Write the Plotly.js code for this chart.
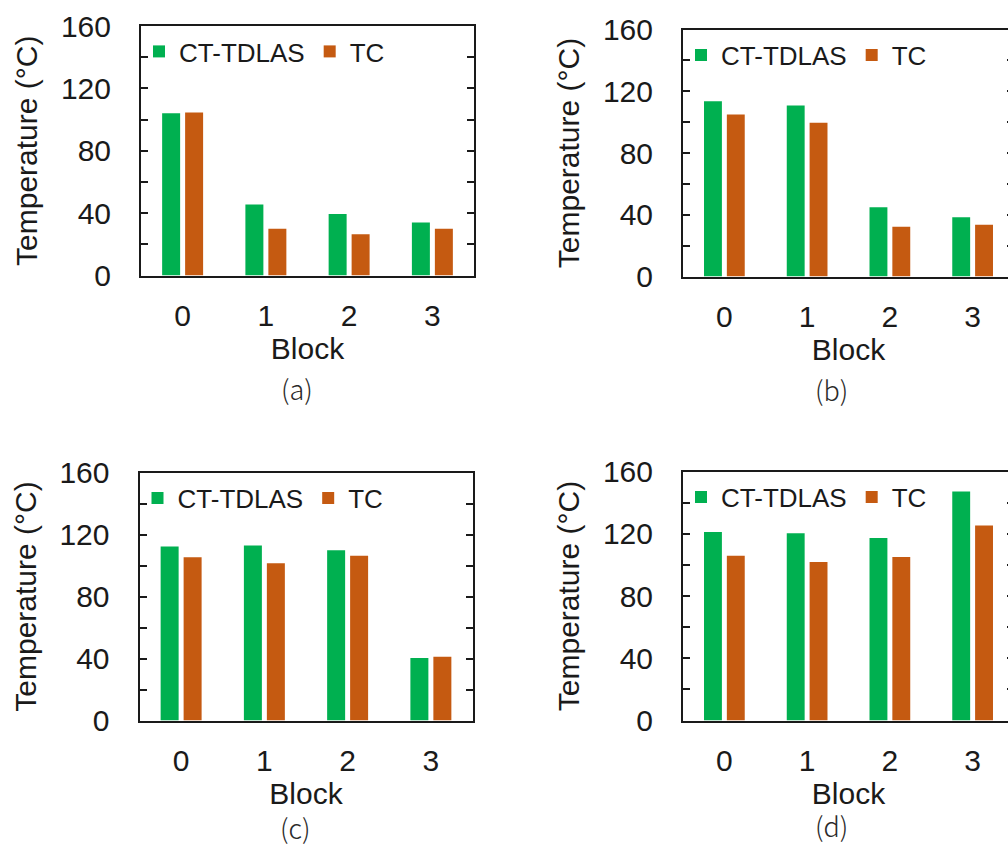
<!DOCTYPE html>
<html>
<head>
<meta charset="utf-8">
<script src="https://cdn.plot.ly/plotly-3.0.1.min.js"></script>
<style>
  html, body { margin: 0; padding: 0; overflow: hidden; background: #fff; }
  #chart { width: 1020px; height: 850px; }
</style>
</head>
<body>
<div id="chart"></div>
<script>
// ---- data ----
const blocks = ['0', '1', '2', '3'];
const seriesNames = ['CT-TDLAS', 'TC'];
const panelLabels = ['(a)', '(b)', '(c)', '(d)'];
const ctA = [104.0, 45.6, 39.4, 34.0];
const tcA = [104.6, 29.9, 26.5, 29.9];
const ctB = [113.6, 110.8, 44.9, 38.4];
const tcB = [105.0, 99.6, 32.3, 33.6];
const ctC = [112.3, 112.9, 109.9, 40.3];
const tcC = [105.4, 101.5, 106.3, 41.1];
const ctD = [121.1, 120.4, 117.2, 147.1];
const tcD = [105.8, 101.8, 105.0, 125.3];
const yTicks = [0, 40, 80, 120, 160];
const xTitle = 'Block';
const yTitle = 'Temperature (°C)';

// ---- layout helpers ----
const W = 1020, H = 850;
const px = x => x / W;
const py = y => 1 - y / H;
const GREEN = '#00B050', ORANGE = '#C55A11';
const FONT = 'Liberation Sans, Arial, sans-serif';
const INK = '#1a1a1a';

// pixel boxes of each plot: [left, right, top, bottom]
const boxes = [
  [141, 474, 26, 275.5],
  [683, 1014, 29.5, 276.5],
  [139.5, 472.5, 472.5, 720.5],
  [683, 1014, 471.5, 720.5]
];
const labelPos = [[297, 388], [831, 389], [295, 827], [831, 825]];
const ctAll = [ctA, ctB, ctC, ctD];
const tcAll = [tcA, tcB, tcC, tcD];

const data = [];
const layout = {
  width: W, height: H,
  margin: {l: 0, r: 0, t: 0, b: 0},
  paper_bgcolor: '#fff', plot_bgcolor: '#fff',
  barmode: 'group', bargap: 0.448, bargroupgap: 0.217,
  font: {family: FONT, color: INK, size: 30},
  showlegend: true,
  annotations: []
};

for (let i = 0; i < 4; i++) {
  const n = i === 0 ? '' : String(i + 1);
  const legendName = 'legend' + n;
  data.push({
    type: 'bar', name: seriesNames[0], x: blocks, y: ctAll[i],
    xaxis: 'x' + n, yaxis: 'y' + n, legend: legendName,
    marker: {color: GREEN}
  });
  data.push({
    type: 'bar', name: seriesNames[1], x: blocks, y: tcAll[i],
    xaxis: 'x' + n, yaxis: 'y' + n, legend: legendName,
    marker: {color: ORANGE}
  });
  const [l, r, t, b] = boxes[i];
  layout['xaxis' + n] = {
    domain: [px(l), px(r)], anchor: 'y' + n, type: 'category',
    range: [-0.5, 3.5], showline: true, linecolor: INK, linewidth: 2,
    mirror: true, ticks: '', showgrid: false, zeroline: false,
    tickfont: {family: FONT, size: 30, color: INK},
    ticklabelstandoff: 12,
    title: {text: xTitle, font: {family: FONT, size: 30, color: INK}, standoff: 0}
  };
  layout['yaxis' + n] = {
    domain: [py(b), py(t)], anchor: 'x' + n, range: [0, 160],
    tickvals: yTicks, showline: true, linecolor: INK, linewidth: 2,
    mirror: 'ticks', ticks: 'inside', ticklen: 7, tickwidth: 2, tickcolor: INK,
    minor: {dtick: 20, ticks: 'inside', ticklen: 7, tickwidth: 2, tickcolor: INK},
    showgrid: false, zeroline: false,
    tickfont: {family: FONT, size: 30, color: INK},
    ticklabelstandoff: 22,
    title: {text: yTitle, font: {family: FONT, size: 30, color: INK}, standoff: 14}
  };
  layout[legendName] = {
    orientation: 'h', x: px(l - 2), y: py(t + 2), xanchor: 'left', yanchor: 'top',
    bgcolor: 'rgba(0,0,0,0)', font: {family: FONT, size: 26, color: INK},
    itemwidth: 30, tracegroupgap: 0
  };
  layout.annotations.push({
    text: panelLabels[i], xref: 'paper', yref: 'paper',
    x: px(labelPos[i][0]), y: py(labelPos[i][1]), xanchor: 'center', yanchor: 'middle',
    showarrow: false,
    font: {family: 'Noto Sans CJK JP, DejaVu Sans, sans-serif', size: 27, color: '#2a2a2a', weight: 300}
  });
}

Plotly.newPlot('chart', data, layout, {staticPlot: true, displayModeBar: false});
</script>
</body>
</html>
